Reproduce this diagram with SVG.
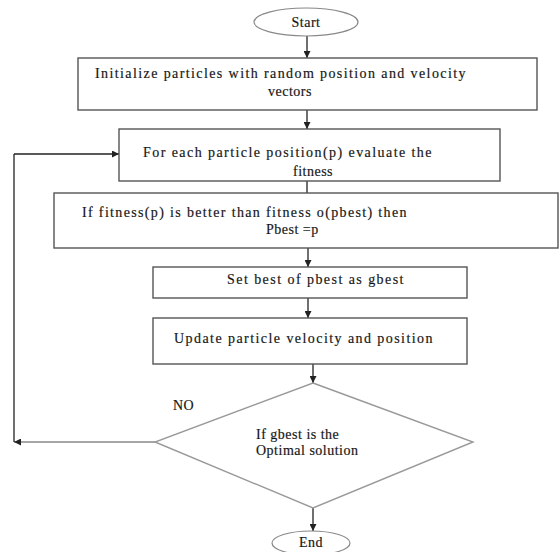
<svg xmlns="http://www.w3.org/2000/svg" width="560" height="552" viewBox="0 0 560 552">
<defs>
<style>
.box{fill:#fff;stroke:#555;stroke-width:1.4}
.term{fill:#fff;stroke:#888;stroke-width:1.2}
.dia{fill:#fff;stroke:#999;stroke-width:1.4}
.t{font-family:"Liberation Serif","Times New Roman",serif;font-size:14px;fill:#111;letter-spacing:0.5px;stroke:#333;stroke-width:0.2}
.c{stroke:#222;stroke-width:1.3;fill:none}
.cg{stroke:#888;stroke-width:1.4;fill:none}
</style>
<marker id="ah" viewBox="0 0 10 10" refX="10" refY="5" markerWidth="7" markerHeight="7" markerUnits="userSpaceOnUse" orient="auto">
<path d="M0,0 L10,5 L0,10 z" fill="#222"/>
</marker>
</defs>
<rect width="560" height="552" fill="#fff"/>
<g id="connectors">
<line class="c" x1="307" y1="36" x2="307" y2="58" marker-end="url(#ah)"/>
<line class="c" x1="307" y1="110" x2="307" y2="129" marker-end="url(#ah)"/>
<line class="c" x1="307" y1="181" x2="307" y2="193"/>
<line class="c" x1="308" y1="248" x2="308" y2="267" marker-end="url(#ah)"/>
<line class="c" x1="308" y1="298" x2="308" y2="318" marker-end="url(#ah)"/>
<line class="c" x1="313" y1="364" x2="313" y2="383" marker-end="url(#ah)"/>
<line class="c" x1="313" y1="508" x2="313" y2="531" marker-end="url(#ah)"/>
<line class="cg" x1="155" y1="442" x2="14" y2="442" marker-end="url(#ah)"/>
<line class="c" x1="14" y1="442" x2="14" y2="154"/>
<line class="c" x1="14" y1="154" x2="119" y2="154" marker-end="url(#ah)"/>
<text class="t" x="173" y="410">NO</text>
</g>
<g id="start">
<ellipse class="term" cx="306" cy="22" rx="52" ry="14"/>
<text class="t" x="306" y="27" text-anchor="middle">Start</text>
</g>
<g id="init">
<rect class="box" x="78" y="58" width="459" height="52"/>
<text class="t" x="95" y="78" textLength="371" lengthAdjust="spacing">Initialize particles with random position and velocity</text>
<text class="t" x="268" y="96">vectors</text>
</g>
<g id="evaluate">
<rect class="box" x="119" y="129" width="381" height="52"/>
<text class="t" x="143" y="157" textLength="289" lengthAdjust="spacing">For each particle position(p) evaluate the</text>
<text class="t" x="293" y="176">fitness</text>
</g>
<g id="pbest">
<rect class="box" x="54" y="193" width="504" height="55"/>
<text class="t" x="82" y="217" textLength="325" lengthAdjust="spacing">If fitness(p) is better than fitness o(pbest) then</text>
<text class="t" x="266" y="234">Pbest =p</text>
</g>
<g id="gbest">
<rect class="box" x="153" y="267" width="314" height="31"/>
<text class="t" x="227" y="284" textLength="177" lengthAdjust="spacing">Set best of pbest as gbest</text>
</g>
<g id="update">
<rect class="box" x="153" y="318" width="314" height="46"/>
<text class="t" x="174" y="343" textLength="259" lengthAdjust="spacing">Update particle velocity and position</text>
</g>
<g id="decision">
<polygon class="dia" points="313,383 473,442 313,508 155,442"/>
<text class="t" x="256" y="439">If gbest is the</text>
<text class="t" x="256" y="455">Optimal solution</text>
</g>
<g id="end">
<ellipse class="term" cx="311" cy="543" rx="39" ry="12"/>
<text class="t" x="311" y="547" text-anchor="middle">End</text>
</g>
</svg>
